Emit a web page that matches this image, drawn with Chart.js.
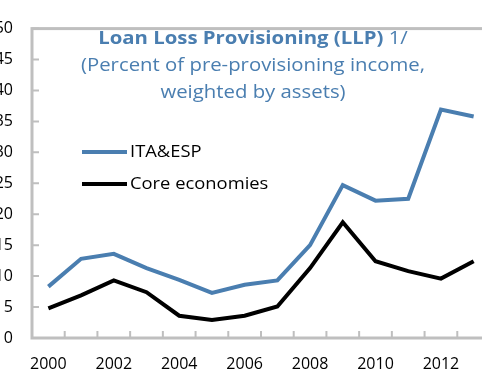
<!DOCTYPE html>
<html>
  <head>
    <meta charset="UTF-8" />
    <title>Loan Loss Provisioning</title>
    <script src="https://cdn.jsdelivr.net/npm/chart.js"></script>
    <style>
      body {
        margin: 0;
        width: 482px;
        height: 369px;
        overflow: hidden;
        position: relative;
        background: #fff;
        font-family: "Open Sans", sans-serif;
      }
      #wrap {
        position: absolute;
        left: -20px;
        top: 0;
        width: 520px;
        height: 380px;
      }
      .title {
        position: absolute;
        left: 43px;
        width: 420px;
        text-align: center;
        color: #4a7eb0;
        font-size: 18px;
        line-height: 27px;
        top: 24px;
        transform: scaleX(1.13);
        transform-origin: 50% 0;
        white-space: nowrap;
      }
      .legend {
        position: absolute;
        left: 82px;
        font-size: 17px;
        color: #000;
        white-space: nowrap;
      }
      .legend span.sw {
        display: inline-block;
        width: 45px;
        height: 4px;
        vertical-align: middle;
        margin-right: 3px;
      }
      .legend span.tx {
        display: inline-block;
        transform: scaleX(1.08);
        transform-origin: 0 50%;
      }
    </style>
  </head>
  <body>
    <div id="wrap"><canvas id="chart" width="520" height="380"></canvas></div>
    <div class="title">
      <b>Loan Loss Provisioning (LLP)</b> 1/<br />
      (Percent of pre-provisioning income,<br />
      weighted by assets)
    </div>
    <div class="legend" style="top: 139px"><span class="sw" style="background: #4a7eb0"></span><span class="tx">ITA&amp;ESP</span></div>
    <div class="legend" style="top: 171px"><span class="sw" style="background: #000"></span><span class="tx">Core economies</span></div>

    <script>
      const years = ["2000", "2001", "2002", "2003", "2004", "2005", "2006", "2007", "2008", "2009", "2010", "2011", "2012", "2013"];
      const itaEsp = [8.3, 12.8, 13.6, 11.3, 9.4, 7.3, 8.6, 9.3, 15.0, 24.7, 22.2, 22.5, 36.9, 35.8];
      const coreEconomies = [4.8, 6.9, 9.3, 7.4, 3.6, 2.9, 3.6, 5.1, 11.3, 18.7, 12.4, 10.8, 9.6, 12.4];
      const yTicks = [0, 5, 10, 15, 20, 25, 30, 35, 40, 45, 50];

      const axisGray = "#bfbfbf";

      // frame + inside tick marks
      const framePlugin = {
        id: "frame",
        beforeDatasetsDraw(chart) {
          const { ctx, chartArea: a, scales } = chart;
          ctx.save();
          ctx.strokeStyle = axisGray;
          ctx.lineWidth = 3;
          ctx.strokeRect(a.left, a.top, a.right - a.left, a.bottom - a.top);
          ctx.lineWidth = 2;
          ctx.beginPath();
          yTicks.forEach((v) => {
            const y = scales.y.getPixelForValue(v);
            ctx.moveTo(a.left, y);
            ctx.lineTo(a.left + 7, y);
          });
          for (let i = 1; i < years.length; i++) {
            const x = (scales.x.getPixelForValue(i - 1) + scales.x.getPixelForValue(i)) / 2;
            ctx.moveTo(x, a.bottom);
            ctx.lineTo(x, a.bottom - 7);
          }
          ctx.stroke();
          ctx.restore();
        },
      };

      new Chart(document.getElementById("chart"), {
        type: "line",
        data: {
          labels: years,
          datasets: [
            { label: "ITA&ESP", data: itaEsp, borderColor: "#4a7eb0", borderWidth: 4, pointRadius: 0, tension: 0 },
            { label: "Core economies", data: coreEconomies, borderColor: "#000", borderWidth: 4, pointRadius: 0, tension: 0 },
          ],
        },
        options: {
          responsive: false,
          animation: false,
          layout: { padding: { top: 13, right: 10, left: 0, bottom: 0 } },
          plugins: { legend: { display: false }, tooltip: { enabled: false } },
          scales: {
            x: {
              offset: true,
              grid: { display: false, drawTicks: false },
              border: { display: false },
              ticks: {
                color: "#000",
                font: { family: "Open Sans", size: 16 },
                padding: 17,
                maxRotation: 0,
                autoSkip: false,
                callback: function (v, i) {
                  return i % 2 === 0 ? years[i] : "";
                },
              },
              afterFit: (s) => { s.height = 42; },
            },
            y: {
              min: 0,
              max: 50,
              grid: { display: false, drawTicks: false },
              border: { display: false },
              ticks: {
                stepSize: 5,
                color: "#000",
                font: { family: "Open Sans", size: 16 },
                padding: 19,
              },
              afterFit: (s) => { s.width = 52; },
            },
          },
        },
        plugins: [framePlugin],
      });
    </script>
  </body>
</html>
